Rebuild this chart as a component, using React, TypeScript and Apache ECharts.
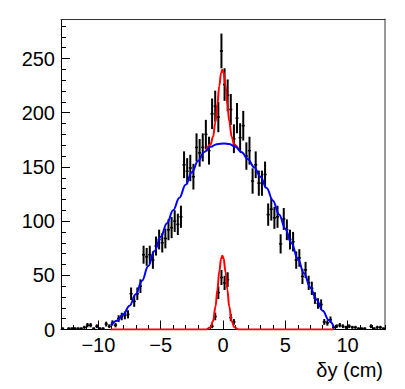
import React, { useEffect, useRef } from 'react';
import * as echarts from 'echarts';

// Histogram binning (main sample): 104 bins of width 0.25 from -13 to 13
const BIN_LOW = -13;
const BIN_WIDTH = 0.25;
const mainCounts = [
  1, 0, 1, 1, 1, 1, 1, 2, 4, 4, 1, 3, 1, 1, 5, 3, 6, 4, 10, 12,
  13, 14, 33, 26, 33, 40, 69, 67, 69, 64, 77, 83, 80, 84, 92, 94, 100, 97, 104, 152,
  146, 149, 141, 168, 163, 168, 180, 165, 199, 206, 196, 257, 226, 216, 203, 176, 195, 177, 188, 160,
  165, 137, 152, 135, 135, 143, 106, 111, 103, 104, 79, 102, 92, 83, 81, 64, 66, 49, 55, 43,
  38, 29, 24, 23, 7, 6, 9, 2, 3, 4, 3, 2, 3, 2, 2, 1, 1, 1, 0, 3,
  1, 2, 2, 1,
];

// Narrow component sample
const narrowCenters = [-0.875, -0.625, -0.375, -0.125, 0.125, 0.375, 0.625, 0.875];
const narrowCounts = [3, 12, 34, 48, 43, 46, 11, 7];

// Broad fit (blue)
const broadX = [-9.0, -8.5, -8.0, -7.5, -7.0, -6.5, -6.0, -5.5, -5.0, -4.5, -4.0, -3.5, -3.0, -2.5, -2.0, -1.5, -1.0, -0.5, 0.1, 0.5, 1.0, 1.5, 2.0, 2.5, 3.0, 3.5, 4.0, 4.5, 5.0, 5.5, 6.0, 6.5, 7.0, 7.5, 8.0, 8.5, 8.9];
const broadY = [4, 8, 14, 22, 32.5, 45, 58.5, 72.5, 85.5, 98, 110, 121.5, 133.5, 145, 155.5, 163.8, 168.5, 171, 171.7, 171.2, 168.5, 163.5, 157, 149.7, 141, 130.5, 119, 106.2, 93, 79.5, 65.5, 51.8, 39, 27.5, 17.3, 8.5, 2];

// Narrow fit (red, bottom)
const narrowFitX = [-9, -1.35, -1.0, -0.8, -0.6, -0.45, -0.3, -0.15, -0.05, 0.05, 0.2, 0.35, 0.5, 0.7, 0.9, 1.25, 8.9];
const narrowFitY = [0, 0.1, 2.1, 7.8, 21.2, 36.7, 53.4, 65.4, 68, 65.4, 53.4, 36.7, 21.2, 7.8, 2.1, 0.1, 0];

// Total fit (red, top peak)
const totalFitX = [-1.35, -1.0, -0.8, -0.6, -0.45, -0.3, -0.15, -0.05, 0.05, 0.2, 0.35, 0.5, 0.7, 0.9, 1.25];
const totalFitY = [165.5, 170.6, 177.8, 191.9, 207.7, 224.7, 236.9, 239.6, 237.1, 225.1, 208.1, 192.2, 177.6, 170.6, 166.0];

// Axis ticks
const X_MIN = -13;
const X_MAX = 13;
const Y_MIN = 0;
const Y_MAX = 286;
const xMajorTicks = [-10, -5, 0, 5, 10];
const xMinorTicks = [-13, -12, -11, -9, -8, -7, -6, -4, -3, -2, -1, 1, 2, 3, 4, 6, 7, 8, 9, 11, 12, 13];
const yMajorTicks = [0, 50, 100, 150, 200, 250];
const yMinorTicks = [10, 20, 30, 40, 60, 70, 80, 90, 110, 120, 130, 140, 160, 170, 180, 190, 210, 220, 230, 240, 260, 270, 280];
const xTitle = 'δy (cm)';

const FONT = 'Liberation Sans, Arial, Helvetica, sans-serif';

function pairs(xs: number[], ys: number[]) {
  return xs.map((x, i) => [x, ys[i]]);
}

function histPoints(centers: number[], counts: number[]) {
  const out: number[][] = [];
  centers.forEach((c, i) => {
    const n = counts[i];
    if (n > 0) out.push([c, n, Math.sqrt(n)]);
  });
  return out;
}

export default function App() {
  const ref = useRef<HTMLDivElement>(null);

  useEffect(() => {
    if (!ref.current) return;
    const chart = echarts.init(ref.current, undefined, { renderer: 'svg' });

    const mainCenters = mainCounts.map((_, i) => BIN_LOW + BIN_WIDTH * (i + 0.5));

    const errRender = (params: any, api: any) => {
      const x = api.value(0);
      const y = api.value(1);
      const e = api.value(2);
      const c = api.coord([x, y]);
      const top = api.coord([x, y + e]);
      const bot = api.coord([x, y - e]);
      const l = api.coord([x - BIN_WIDTH / 2, y]);
      const r = api.coord([x + BIN_WIDTH / 2, y]);
      return {
        type: 'group',
        children: [
          { type: 'line', shape: { x1: c[0], y1: top[1], x2: c[0], y2: bot[1] }, style: { stroke: '#000', lineWidth: 2 } },
          { type: 'line', shape: { x1: l[0], y1: c[1], x2: r[0], y2: c[1] }, style: { stroke: '#000', lineWidth: 1.5 } },
        ],
      };
    };

    const minusFmt = (v: number) => String(v).replace('-', '\u2212');

    chart.setOption({
      animation: false,
      backgroundColor: '#fff',
      grid: { left: 61, right: 20, top: 19.5, bottom: 59.5, containLabel: false },
      xAxis: [
        {
          type: 'value', min: X_MIN, max: X_MAX, position: 'bottom',
          axisLine: { show: true, onZero: false, lineStyle: { color: '#000', width: 1 } },
          axisTick: { show: true, inside: true, length: 9, customValues: xMajorTicks, lineStyle: { color: '#000', width: 1 } },
          axisLabel: { show: true, customValues: xMajorTicks, formatter: minusFmt, fontSize: 20, fontFamily: FONT, color: '#000', margin: 5 },
          splitLine: { show: false },
        },
        {
          type: 'value', min: X_MIN, max: X_MAX, position: 'bottom',
          axisLine: { show: false, onZero: false },
          axisTick: { show: true, inside: true, length: 4.5, customValues: xMinorTicks, lineStyle: { color: '#000', width: 1 } },
          axisLabel: { show: false },
          splitLine: { show: false },
        },
        {
          type: 'value', min: X_MIN, max: X_MAX, position: 'top',
          axisLine: { show: true, onZero: false, lineStyle: { color: '#333', width: 1 } },
          axisTick: { show: false },
          axisLabel: { show: false },
          splitLine: { show: false },
        },
      ],
      yAxis: [
        {
          type: 'value', min: Y_MIN, max: Y_MAX, position: 'left',
          axisLine: { show: true, onZero: false, lineStyle: { color: '#000', width: 1 } },
          axisTick: { show: true, inside: true, length: 9, customValues: yMajorTicks, lineStyle: { color: '#000', width: 1 } },
          axisLabel: { show: true, customValues: yMajorTicks, fontSize: 20, fontFamily: FONT, color: '#000', margin: 6 },
          splitLine: { show: false },
        },
        {
          type: 'value', min: Y_MIN, max: Y_MAX, position: 'left',
          axisLine: { show: false, onZero: false },
          axisTick: { show: true, inside: true, length: 5, customValues: yMinorTicks, lineStyle: { color: '#000', width: 1 } },
          axisLabel: { show: false },
          splitLine: { show: false },
        },
        {
          type: 'value', min: Y_MIN, max: Y_MAX, position: 'right',
          axisLine: { show: true, onZero: false, lineStyle: { color: '#999', width: 2 } },
          axisTick: { show: false },
          axisLabel: { show: false },
          splitLine: { show: false },
        },
      ],
      graphic: [
        {
          type: 'text', right: 22, top: 360,
          style: { text: xTitle, font: `20px ${FONT}`, fill: '#000' },
        },
      ],
      series: [
        {
          type: 'custom', name: 'main', xAxisIndex: 0, yAxisIndex: 0,
          renderItem: errRender, data: histPoints(mainCenters, mainCounts), z: 2,
          encode: { x: 0, y: 1 },
        },
        {
          type: 'custom', name: 'narrow', xAxisIndex: 0, yAxisIndex: 0,
          renderItem: errRender, data: histPoints(narrowCenters, narrowCounts), z: 2,
          encode: { x: 0, y: 1 },
        },
        {
          type: 'line', name: 'narrowFit', xAxisIndex: 0, yAxisIndex: 0,
          data: pairs(narrowFitX, narrowFitY), smooth: 0.4, smoothMonotone: 'x',
          showSymbol: false, symbol: 'none', lineStyle: { color: '#ff0000', width: 2 }, z: 4,
        },
        {
          type: 'line', name: 'totalFit', xAxisIndex: 0, yAxisIndex: 0,
          data: pairs(totalFitX, totalFitY), smooth: 0.4, smoothMonotone: 'x',
          showSymbol: false, symbol: 'none', lineStyle: { color: '#ff0000', width: 2 }, z: 4,
        },
        {
          type: 'line', name: 'broadFit', xAxisIndex: 0, yAxisIndex: 0,
          data: pairs(broadX, broadY), smooth: 0.4, smoothMonotone: 'x',
          showSymbol: false, symbol: 'none', lineStyle: { color: '#0000ff', width: 2 }, z: 5,
        },
      ],
    });

    return () => chart.dispose();
  }, []);

  return (
    <div
      ref={ref}
      style={{ position: 'absolute', left: 0, top: 0, width: 405, height: 389 }}
    />
  );
}
